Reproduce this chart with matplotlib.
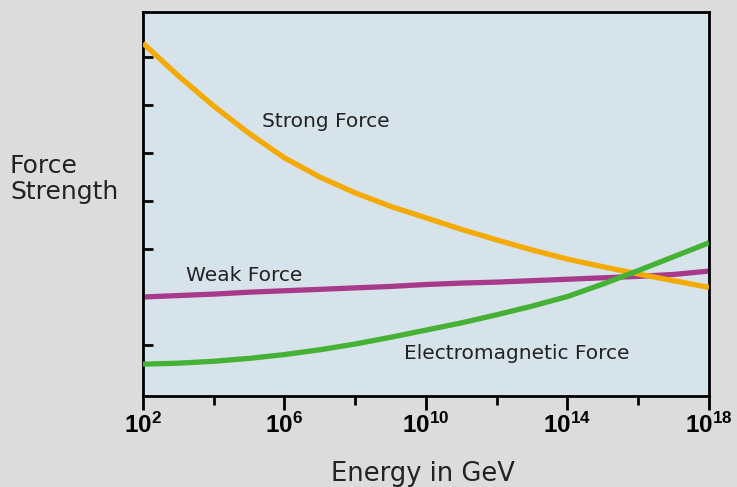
import numpy as np
import matplotlib
matplotlib.use('Agg')
import matplotlib.pyplot as plt

plt.rcParams['mathtext.fontset'] = 'custom'
plt.rcParams['mathtext.bf'] = 'Liberation Sans:bold'
plt.rcParams['mathtext.rm'] = 'Liberation Sans'

# log10(energy / GeV)
log_energy = [2, 3, 4, 5, 6, 7, 8, 9, 10, 11, 12, 13, 14, 15, 16, 17, 18]
strong = [7.29, 6.61, 5.98, 5.41, 4.90, 4.50, 4.17, 3.89, 3.65, 3.41, 3.19, 2.98, 2.79, 2.63, 2.48, 2.34, 2.20]
weak = [2.00, 2.03, 2.06, 2.10, 2.13, 2.16, 2.19, 2.22, 2.26, 2.29, 2.31, 2.34, 2.37, 2.40, 2.43, 2.47, 2.54]
electromag = [0.60, 0.62, 0.66, 0.72, 0.80, 0.90, 1.02, 1.16, 1.31, 1.46, 1.63, 1.81, 2.01, 2.27, 2.55, 2.84, 3.13]

major_ticks = [2, 6, 10, 14, 18]
minor_ticks = [4, 8, 12, 16]
tick_labels = [r'$\mathbf{10^{%d}}$' % t for t in major_ticks]

fig = plt.figure(figsize=(7.37, 4.87), dpi=100, facecolor='#DCDCDC')
ax = fig.add_axes([0.194, 0.187, 0.768, 0.788])
ax.set_facecolor('#D6E3EA')

lw = 3.8
ax.plot(log_energy, strong, color='#F4AA00', lw=lw, solid_capstyle='butt', zorder=3)
ax.plot(log_energy, weak, color='#A83A8B', lw=lw, solid_capstyle='butt', zorder=2)
ax.plot(log_energy, electromag, color='#45B135', lw=lw, solid_capstyle='butt', zorder=4)

ax.set_xlim(2, 18)
ax.set_ylim(-0.0625, 7.9375)

ax.set_xticks(major_ticks)
ax.set_xticklabels(tick_labels, fontsize=17.5)
ax.set_xticks(minor_ticks, minor=True)
ax.tick_params(axis='x', which='major', direction='out', length=10, width=2, pad=2)
ax.tick_params(axis='x', which='minor', direction='out', length=6.5, width=2)
ax.set_yticks([1, 2, 3, 4, 5, 6, 7])
ax.set_yticklabels([])
ax.tick_params(axis='y', direction='in', length=7, width=2)
for s in ax.spines.values():
    s.set_linewidth(2)

txt = dict(fontsize=14.5, color='#222222', family='DejaVu Sans')
ax.text(5.36, 5.65, 'Strong Force', va='center', ha='left', **txt)
ax.text(3.22, 2.44, 'Weak Force', va='center', ha='left', **txt)
ax.text(9.38, 0.83, 'Electromagnetic Force', va='center', ha='left', **txt)

fig.text(10 / 737, 1 - 179 / 487, 'Force\nStrength', fontsize=18, ha='left', va='center',
         color='#222222', linespacing=1.1)
fig.text(423 / 737, 1 - 474 / 487, 'Energy in GeV', fontsize=18.5, ha='center', va='center',
         color='#222222')

fig.savefig('out.png', dpi=100, facecolor=fig.get_facecolor())
